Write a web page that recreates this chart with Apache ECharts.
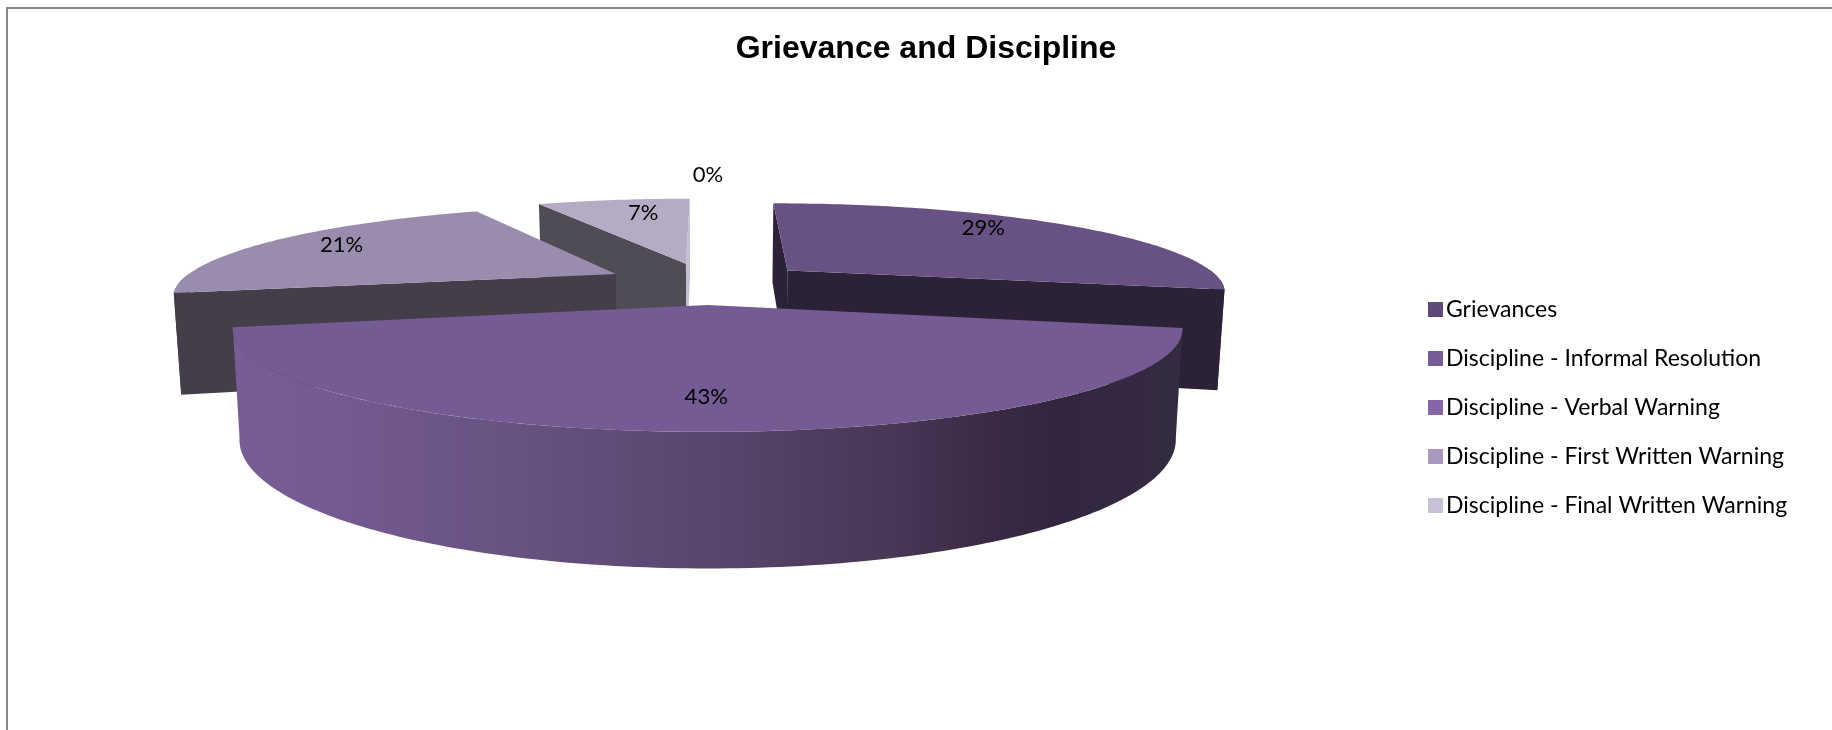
<!DOCTYPE html>
<html><head><meta charset="utf-8">
<style>html,body{margin:0;padding:0;background:#fff}#c{width:1832px;height:730px}</style>
<script src="https://cdn.jsdelivr.net/npm/echarts@6/dist/echarts.min.js"></script>
</head><body><div id="c"></div>
<script>
// Data (percent shares, labels round them)
const categories = ['Grievances','Discipline - Informal Resolution','Discipline - Verbal Warning','Discipline - First Written Warning','Discipline - Final Written Warning'];
const shares = [28.6, 42.9, 21.4, 7.1, 0];
const chartTitle = 'Grievance and Discipline';

// Styles
const legendColors = ['#5E4A78','#765C96','#8566A6','#A899BF','#C8C1D7'];
const topColors  = ['#685283','#755B93','#9A8CAD','#B5ABC5','#C8C1D7'];
const sideColors = ['#2C2238','#32263F','#433E4A','#504C55','#C8C1D7'];
const endFaceColors = ['#2C2238','#32263F','#433E4A','#C4BED2','#C8C1D7'];
const wallStops = [[0,'#775C95'],[.1,'#745A92'],[.3,'#675280'],[.5,'#58466E'],[.7,'#473654'],[.8,'#3A2A45'],[.87,'#31263E'],[1,'#352B41']];
// Placement of % labels on each slice: radius and fraction across its sweep
const labelR = [.80,.775,.81,.757,1.47];
const labelT = [.417,.5,.53,.62,.5];

// Projection of the tilted pie
const view = {cx:708, cy:283, su:437, sv:87, p:.222, explode:.24, height:99, lean:.014};
const rad = d => d*Math.PI/180;
function proj(u,v){const w=1+view.p*v;return {x:view.cx+view.su*u/w,y:view.cy-view.sv*v/w,w};}
function low(t){return [view.cx+(t.x-view.cx)*(1-view.lean), t.y+view.height/t.w];}
const total = shares.reduce((a,b)=>a+b,0);
let acc=0;
const spans = shares.map(s=>{const a=acc/total*360;acc+=s;return [a,acc/total*360];});
function area(P){let s=0;for(let i=0;i<P.length;i++){const q=P[(i+1)%P.length];s+=P[i][0]*q[1]-q[0]*P[i][1];}return s/2;}

function renderSlice(params,api){
  const i=api.value(0), [a,b]=spans[i], mid=rad((a+b)/2);
  const ox=Math.sin(mid)*view.explode, oy=Math.cos(mid)*view.explode;
  const at=(th,r)=>proj(ox+r*Math.sin(rad(th)),oy+r*Math.cos(rad(th)));
  const kids=[];
  if(b>a){
    const apex=at(a,0), arc=[];
    const n=Math.max(2,Math.ceil(b-a));
    for(let k=0;k<=n;k++)arc.push(a+(b-a)*k/n);
    const s=at(a,1), e=at(b,1);
    const f1=[[apex.x,apex.y],[s.x,s.y],low(s),low(apex)];
    const f2=[[e.x,e.y],[apex.x,apex.y],low(apex),low(e)];
    if(area(f1)<0)kids.push({type:'polygon',shape:{points:f1},style:{fill:sideColors[i]}});
    if(area(f2)<0)kids.push({type:'polygon',shape:{points:f2},style:{fill:endFaceColors[i]}});
    const wa=Math.max(a,90), wb=Math.min(b,270);
    if(wb>wa){
      const up=[],dn=[];
      for(let th=wa;;th=Math.min(th+1,wb)){const t=at(th,1);up.push([t.x,t.y]);dn.unshift(low(t));if(th>=wb)break;}
      const wide=wb-wa>90;
      const fill=wide?new echarts.graphic.LinearGradient(0,0,1,0,wallStops.map(s=>({offset:s[0],color:s[1]}))):sideColors[i];
      kids.push({type:'polygon',shape:{points:up.concat(dn)},style:{fill}});
    }
    const top=[[apex.x,apex.y]].concat(arc.map(th=>{const t=at(th,1);return [t.x,t.y];}));
    kids.push({type:'polygon',shape:{points:top},style:{fill:topColors[i]}});
  }
  const lp=at(a+(b-a)*labelT[i],labelR[i]);
  const pct=Math.round(shares[i]/total*100)+'%';
  kids.push({type:'text',style:{text:pct,x:lp.x,y:lp.y,fill:'#000',font:'22px Lato',align:'center',verticalAlign:'middle'}});
  return {type:'group',children:kids};
}

const order=shares.map((s,i)=>i).sort((p,q)=>{
  const m=k=>Math.cos(rad((spans[k][0]+spans[k][1])/2));return m(q)-m(p);});

const chart=echarts.init(document.getElementById('c'),null,{renderer:'canvas'});
chart.setOption({
  animation:false,
  backgroundColor:'#fff',
  title:{text:chartTitle,left:921,top:28,textAlign:'center',textStyle:{fontFamily:'Liberation Sans',fontWeight:'bold',fontSize:32,color:'#000'}},
  legend:{orient:'vertical',left:1423,top:293,itemWidth:15,itemHeight:15,itemGap:26,icon:'rect',
    data:categories,selectedMode:false,
    textStyle:{fontFamily:'Lato',fontSize:23,color:'#000',padding:[0,0,0,-2],height:22,lineHeight:22}},
  graphic:[{type:'rect',shape:{x:7,y:8,width:2000,height:2000},style:{fill:'none',stroke:'#888',lineWidth:2},silent:true}],
  series:order.map(i=>({
    type:'custom',name:categories[i],coordinateSystem:'none',silent:true,
    itemStyle:{color:legendColors[i]},
    renderItem:renderSlice,
    data:[{value:[i,shares[i]],name:categories[i]}]
  }))
});
</script></body></html>
